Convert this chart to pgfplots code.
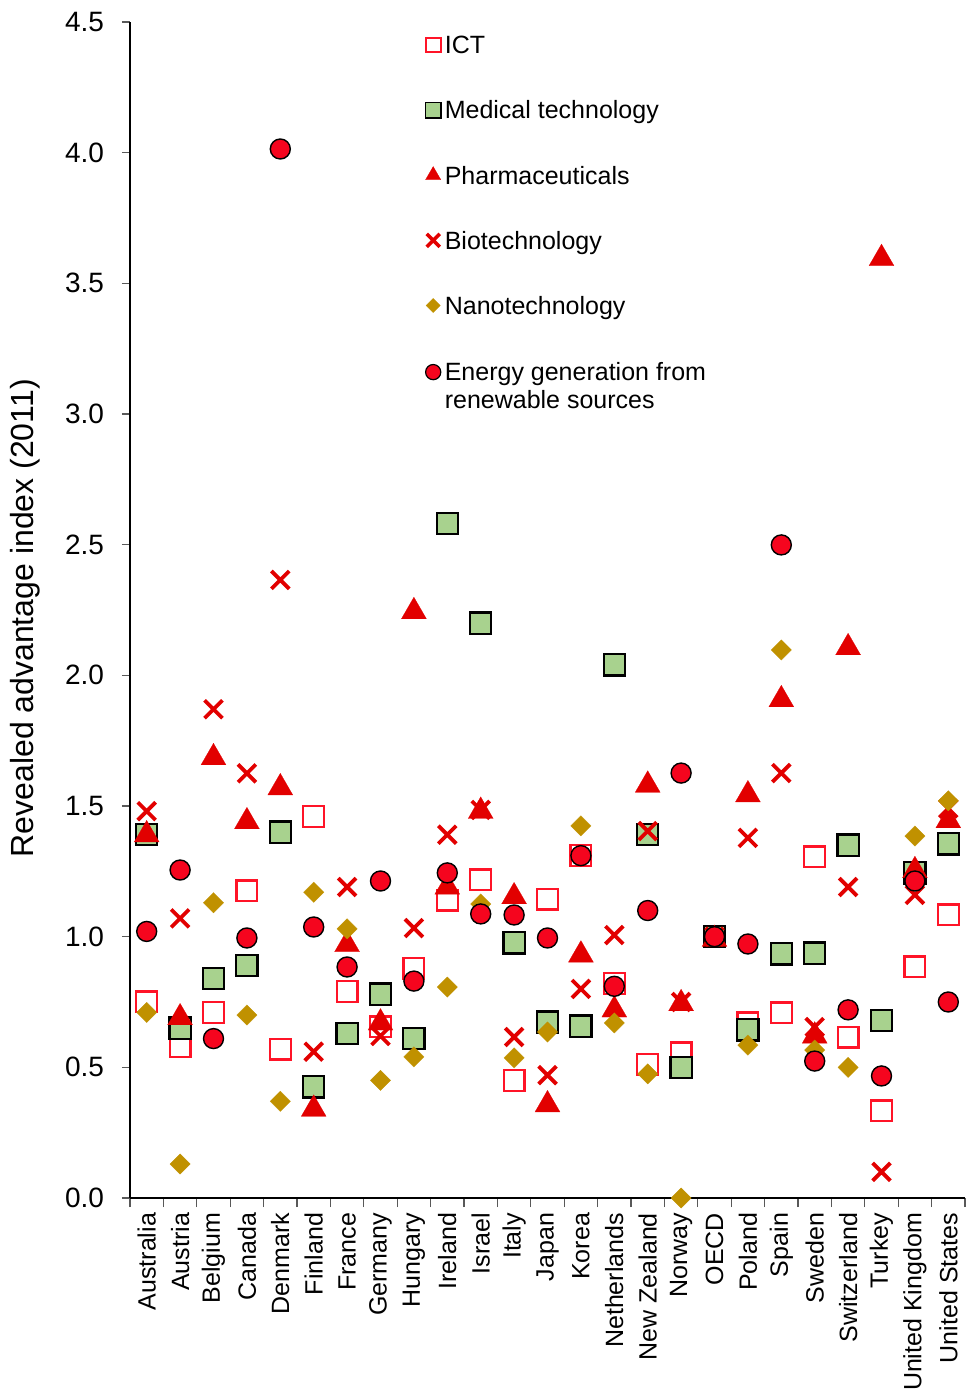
\documentclass[border=0pt]{standalone}
\usepackage{pgfplots}
\pgfplotsset{compat=1.18}
\usepackage{fontspec}
\setmainfont{Liberation Sans}
\definecolor{ictred}{RGB}{255,20,40}
\definecolor{medgreen}{RGB}{168,210,142}
\definecolor{phred}{RGB}{226,0,0}
\definecolor{nanogold}{RGB}{192,145,0}
\definecolor{enred}{RGB}{245,5,30}
\begin{document}
\begin{tikzpicture}
\begin{axis}[
  name=ax,
  scale only axis,
  width=417.5pt, height=588pt,
  xmin=-0.5, xmax=24.5, ymin=0, ymax=4.5,
  clip=false,
  axis x line*=bottom, axis y line*=left,
  axis line style={line width=0.7pt},
  tick align=outside,
  major tick length=4pt,
  minor tick length=4.5pt,
  tick style={color=black!65, line width=0.6pt},
  /pgf/number format/assume math mode=true,
  ytick={0,0.5,1,1.5,2,2.5,3,3.5,4,4.5},
  yticklabel style={/pgf/number format/fixed, /pgf/number format/fixed zerofill, /pgf/number format/precision=1, font=\fontsize{14}{16}\selectfont, xshift=-5.5pt},
  xtick={0,...,24},
  xticklabels={Australia,Austria,Belgium,Canada,Denmark,Finland,France,Germany,Hungary,Ireland,Israel,Italy,Japan,Korea,Netherlands,New Zealand,Norway,OECD,Poland,Spain,Sweden,Switzerland,Turkey,United Kingdom,United States},
  xticklabel style={rotate=90, anchor=east, font=\fontsize{12.5}{15}\selectfont},
  major x tick style={draw=none},
  minor xtick={-0.5,0.5,...,24.5},
  ylabel={Revealed advantage index (2011)},
  ylabel style={at={(axis description cs:-0.126,0.493)}, anchor=center, font=\fontsize{16}{19}\selectfont},
  legend image code/.code={\draw[#1] plot coordinates {(0pt,4.4pt)};},
  legend style={at={(axis description cs:0.3535,0.9915)}, anchor=north west, draw=none, fill=none,
    font=\fontsize{12.5}{14}\selectfont, row sep=18pt, inner sep=0pt,
    cells={anchor=base west},
    /tikz/every even column/.append style={column sep=0pt}},
]
% ICT
\addplot[forget plot, only marks, color=ictred, mark=square, mark size=5.2pt, mark options={draw=ictred, line width=1.1pt}] coordinates {
(0,0.75)(1,0.58)(2,0.71)(3,1.175)(4,0.57)(5,1.46)(6,0.79)(7,0.655)(8,0.88)(9,1.14)(10,1.217)(11,0.45)(12,1.144)(13,1.31)(14,0.82)(15,0.51)(16,0.555)(17,1.0)(18,0.67)(19,0.708)(20,1.305)(21,0.616)(22,0.333)(23,0.884)(24,1.083)};
% Medical technology
\addplot[forget plot, only marks, color=black, mark=square*, mark size=5.3pt, mark options={draw=black, fill=medgreen, line width=1.1pt}] coordinates {
(0,1.39)(1,0.65)(2,0.84)(3,0.89)(4,1.40)(5,0.425)(6,0.63)(7,0.78)(8,0.61)(9,2.58)(10,2.20)(11,0.976)(12,0.673)(13,0.658)(14,2.04)(15,1.39)(16,0.50)(17,1.0)(18,0.643)(19,0.934)(20,0.937)(21,1.35)(22,0.68)(23,1.244)(24,1.355)};
% Pharmaceuticals
\addplot[forget plot, only marks, color=phred, mark=triangle*, mark size=7.2pt, mark options={draw=phred, fill=phred, line width=0.1pt}] coordinates {
(0,1.39)(1,0.69)(2,1.685)(3,1.44)(4,1.57)(5,0.34)(6,0.97)(7,0.67)(8,2.244)(9,1.19)(10,1.48)(11,1.153)(12,0.357)(13,0.93)(14,0.72)(15,1.58)(16,0.744)(17,0.99)(18,1.543)(19,1.907)(20,0.62)(21,2.106)(22,3.595)(23,1.253)(24,1.444)};
% Biotechnology
\addplot[forget plot, only marks, color=phred, mark=x, mark size=6.3pt, mark options={draw=phred, line width=1.9pt}] coordinates {
(0,1.48)(1,1.07)(2,1.87)(3,1.625)(4,2.365)(5,0.56)(6,1.19)(7,0.62)(8,1.033)(9,1.39)(10,1.485)(11,0.616)(12,0.47)(13,0.80)(14,1.006)(15,1.404)(16,0.75)(17,1.0)(18,1.378)(19,1.626)(20,0.654)(21,1.19)(22,0.10)(23,1.16)(24,1.49)};
% Nanotechnology
\addplot[forget plot, only marks, color=nanogold, mark=square*, mark size=3.6pt, mark options={draw=nanogold, fill=nanogold, line width=0.1pt, rotate=45}] coordinates {
(0,0.71)(1,0.13)(2,1.13)(3,0.70)(4,0.37)(5,1.17)(6,1.03)(7,0.45)(8,0.54)(9,0.807)(10,1.125)(11,0.536)(12,0.635)(13,1.424)(14,0.67)(15,0.475)(16,0.0)(17,1.0)(18,0.585)(19,2.097)(20,0.566)(21,0.50)(23,1.385)(24,1.52)};
% Energy generation from renewable sources
\addplot[forget plot, only marks, color=black, mark=*, mark size=5pt, mark options={draw=black, fill=enred, line width=0.7pt}] coordinates {
(0,1.02)(1,1.255)(2,0.61)(3,0.995)(4,4.014)(5,1.037)(6,0.884)(7,1.213)(8,0.83)(9,1.244)(10,1.087)(11,1.083)(12,0.995)(13,1.31)(14,0.81)(15,1.10)(16,1.626)(17,1.0)(18,0.972)(19,2.499)(20,0.524)(21,0.72)(22,0.467)(23,1.213)(24,0.75)};

\addlegendimage{only marks, color=ictred, mark=square, mark size=3.7pt, mark options={draw=ictred, line width=1pt}}
\addlegendentry{ICT}
\addlegendimage{only marks, color=black, mark=square*, mark size=3.8pt, mark options={draw=black, fill=medgreen, line width=0.9pt}}
\addlegendentry{Medical technology}
\addlegendimage{only marks, color=phred, mark=triangle*, mark size=4.4pt, mark options={draw=phred, fill=phred, line width=0.1pt}}
\addlegendentry{Pharmaceuticals}
\addlegendimage{only marks, color=phred, mark=x, mark size=4.6pt, mark options={draw=phred, line width=1.8pt}}
\addlegendentry{Biotechnology}
\addlegendimage{only marks, color=nanogold, mark=square*, mark size=2.5pt, mark options={draw=nanogold, fill=nanogold, line width=0.1pt, rotate=45}}
\addlegendentry{Nanotechnology}
\addlegendimage{only marks, color=black, mark=*, mark size=3.8pt, mark options={draw=black, fill=enred, line width=0.6pt}}
\addlegendentry{\begin{tabular}[t]{@{}l@{}}Energy generation from\\renewable sources\end{tabular}}
\end{axis}
\pgfresetboundingbox
\path[use as bounding box] ([shift={(-65pt,-97.5pt)}]ax.south west) rectangle ([shift={(1pt,11pt)}]ax.north east);
\end{tikzpicture}
\end{document}
